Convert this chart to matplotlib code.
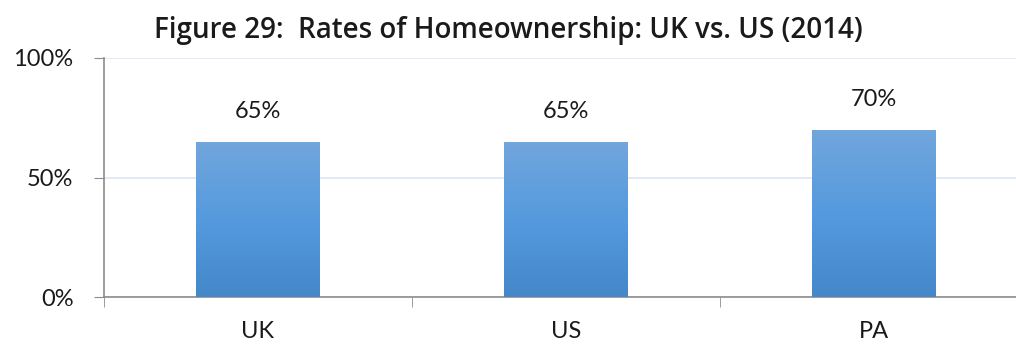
import numpy as np
import matplotlib.pyplot as plt
from matplotlib.colors import LinearSegmentedColormap
from matplotlib.ticker import FixedLocator, PercentFormatter

# homeownership rates, 2014
regions = ["UK", "US", "PA"]
rates = [65, 65, 70]
y_ticks = [0, 50, 100]

plt.rcParams["font.family"] = ["Lato", "DejaVu Sans"]

fig = plt.figure(figsize=(10.16, 3.52), dpi=100)
ax = fig.add_axes([104 / 1016, 55 / 352, 924 / 1016, 239 / 352])

x = np.arange(len(regions))
bars = ax.bar(x, rates, width=0.4, color="#5598d6", zorder=2)

# vertical gradient inside each bar
grad = np.linspace(0, 1, 256).reshape(-1, 1)
cmap = LinearSegmentedColormap.from_list(
    "bar", ["#4488ca", "#559ade", "#72a6dc"])
for b in bars:
    x0, w, h = b.get_x(), b.get_width(), b.get_height()
    im = ax.imshow(grad, cmap=cmap, aspect="auto", origin="lower",
                   extent=[x0, x0 + w, 0, h], zorder=3)
    im.set_clip_path(b)

for xi, v in zip(x, rates):
    ax.annotate(f"{v}%", (xi, v), xytext=(0, 14), textcoords="offset points",
                ha="center", va="bottom", fontsize=17, color="#1a1a1a")

ax.set_xlim(-0.5, len(regions) - 0.5)
ax.set_ylim(0, 100)
ax.yaxis.set_major_locator(FixedLocator(y_ticks))
ax.yaxis.set_major_formatter(PercentFormatter(decimals=0))
ax.set_xticks(x)
ax.set_xticklabels(regions)
ax.xaxis.set_minor_locator(FixedLocator(np.arange(len(regions) + 1) - 0.5))

ax.grid(axis="y", color="#dce6f2", linewidth=1.2, zorder=0)
ax.set_axisbelow(True)
for s in ["top", "right"]:
    ax.spines[s].set_visible(False)
for s in ["left", "bottom"]:
    ax.spines[s].set_color("#8c8c8c")
    ax.spines[s].set_linewidth(1.2)

ax.tick_params(axis="y", length=7, color="#8c8c8c", labelsize=17,
               labelcolor="#1a1a1a", pad=15)
ax.tick_params(axis="x", which="major", length=0, labelsize=17,
               labelcolor="#1a1a1a", pad=17)
ax.tick_params(axis="x", which="minor", length=7, color="#8c8c8c")

fig.text(0.5, 0.913, "Figure 29:  Rates of Homeownership: UK vs. US (2014)",
         ha="center", va="center", fontsize=20, fontweight="semibold",
         family=["Open Sans", "DejaVu Sans"], color="#1a1a1a")

fig.savefig("out.png", dpi=100)
